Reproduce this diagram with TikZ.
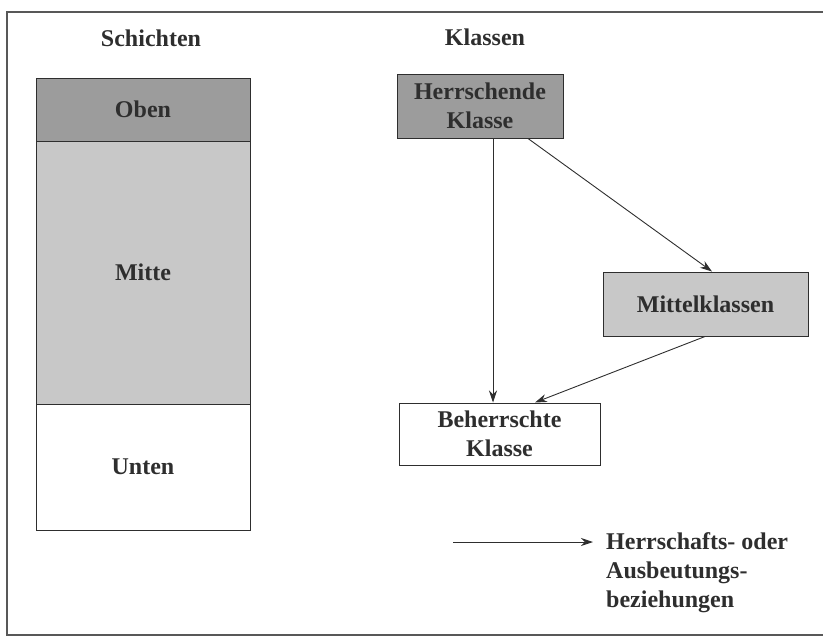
\documentclass[tikz,border=0pt]{standalone}
\usepackage{fontspec}
\setmainfont{Liberation Serif}
\usetikzlibrary{arrows.meta}
\definecolor{dunkel}{HTML}{9C9C9C}
\definecolor{hell}{HTML}{C8C8C8}
\definecolor{tinte}{HTML}{2E2E2E}
\begin{document}
\begin{tikzpicture}[x=1pt, y=-1pt, font=\fontsize{24}{29}\selectfont\bfseries, text=tinte]
		\tikzstyle{kasten}=[draw=tinte, line width=1pt, rectangle, inner sep=0pt, align=center]
		\tikzstyle{pfeil}=[-{Stealth[length=12pt,width=8pt]}, line width=0.9pt, draw=tinte]
		\useasboundingbox (0,0) rectangle (823,638);
		\draw[line width=1.1pt, draw=tinte!80] (823,12) -- (7,12) -- (7,635) -- (823,635);
		% Schichten
		\node[](schichten)at(151,38){Schichten};
		\node[kasten, fill=dunkel, minimum width=214pt, minimum height=63pt](oben)at(143,109.5){Oben};
		\node[kasten, fill=hell, minimum width=214pt, minimum height=263pt](mitte)at(143,272.5){Mitte};
		\node[kasten, fill=white, minimum width=214pt, minimum height=126pt](unten)at(143,467){Unten};
		% Klassen
		\node[](klassen)at(485,37){Klassen};
		\node[kasten, fill=dunkel, minimum width=166pt, minimum height=64pt](herr)at(480,106){Herrschende\\Klasse};
		\node[kasten, fill=hell, minimum width=205pt, minimum height=64pt](mittel)at(705.5,304){Mittelklassen};
		\node[kasten, fill=white, minimum width=201pt, minimum height=62pt](beh)at(499.5,434){Beherrschte\\Klasse};
		\draw[pfeil] ([xshift=13pt]herr.south) -- ([xshift=-6.5pt]beh.north);
		\draw[pfeil] ([xshift=48pt]herr.south) -- ([xshift=6.5pt]mittel.north);
		\draw[pfeil] ([xshift=-0.5pt]mittel.south) -- ([xshift=35.5pt]beh.north);
		% Legende
		\node[anchor=north west, align=left, inner sep=3pt](legende)at(603,529){Herrschafts- oder\\Ausbeutungs-\\beziehungen};
		\coordinate(lg)at(453,542);
		\draw[pfeil, shorten >=10pt] (lg) -- (lg -| legende.west);
		\end{tikzpicture}
\end{document}
